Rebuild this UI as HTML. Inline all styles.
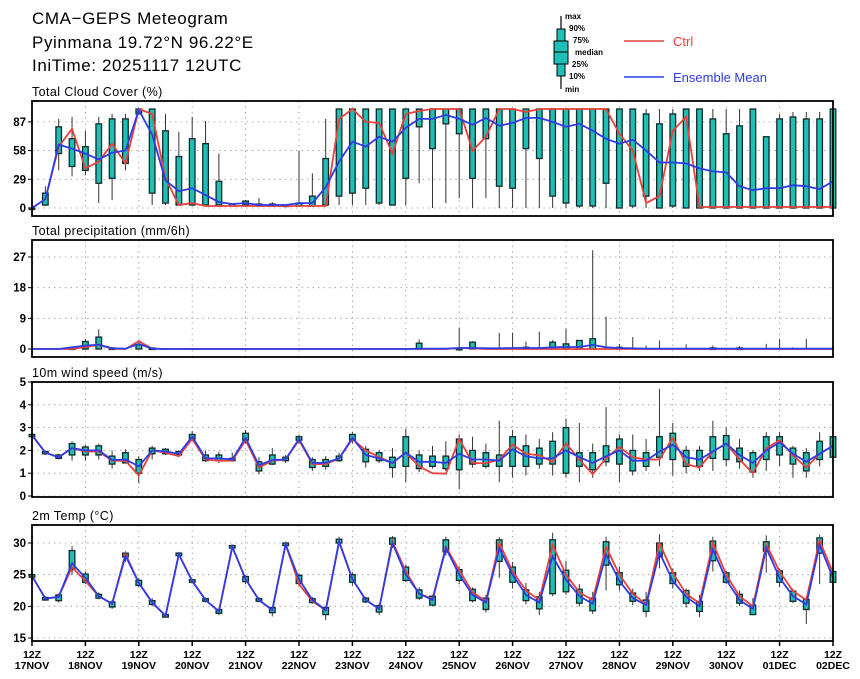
<!DOCTYPE html>
<html><head><meta charset="utf-8">
<style>
html,body{margin:0;padding:0;background:#fff;}
svg{display:block;font-family:"Liberation Sans",sans-serif;}
</style></head>
<body>
<svg id="chart" width="860" height="679" viewBox="0 0 860 679" xmlns="http://www.w3.org/2000/svg">
  <rect x="0" y="0" width="860" height="679" fill="#fff"/>
  <g font-size="17" fill="#000">
    <text x="32" y="24" letter-spacing="0.6">CMA−GEPS Meteogram</text>
    <text x="32" y="48" letter-spacing="0.6">Pyinmana 19.72°N 96.22°E</text>
    <text x="32" y="71" letter-spacing="0.6">IniTime: 20251117 12UTC</text>
  </g>
  <g font-size="8" font-weight="bold">
    <line x1="561" y1="16" x2="561" y2="89" stroke="#000" stroke-width="1.2"/>
    <rect x="557" y="29" width="8" height="47" fill="#1fbfb8" stroke="#000"/>
    <rect x="554" y="41" width="14" height="23" fill="#1fbfb8" stroke="#000"/>
    <line x1="554" y1="52" x2="568" y2="52" stroke="#000"/>
    <text x="565" y="19">max</text><text x="569" y="31">90%</text><text x="573" y="43">75%</text>
    <text x="575" y="55">median</text><text x="572" y="67">25%</text><text x="569" y="79">10%</text><text x="565" y="92">min</text>
  </g>
  <g>
    <line x1="624" y1="41" x2="664" y2="41" stroke="#e8403c" stroke-width="1.5"/>
    <text x="673" y="46" font-size="13" fill="#e8403c">Ctrl</text>
  </g>
  <g>
    <line x1="624" y1="77" x2="664" y2="77" stroke="#2c3ce8" stroke-width="1.5"/>
    <text x="673" y="82" font-size="13" fill="#2c3ce8">Ensemble Mean</text>
  </g>
  <g id="plots"></g>
</svg>
<script>
// ---------- data ----------
const dayLabels = ["17NOV","18NOV","19NOV","20NOV","21NOV","22NOV","23NOV","24NOV","25NOV","26NOV","27NOV","28NOV","29NOV","30NOV","01DEC","02DEC"];

const cMean=[0,9,64,60,55,49,56,58,99,74,28,17,20,13,6,4,5,3,3,3,5,5,21,47,67,62,72,67,81,90,90,94,90,84,91,83,86,91,91,87,82,85,78,70,65,69,58,46,46,45,40,37,36,22,18,20,20,23,22,19,27];
const cCtrl=[0,9,62,80,40,47,65,45,100,95,30,3,5,2,2,2,2,2,2,2,2,2,2,90,100,87,86,55,95,98,100,100,100,58,72,100,100,97,100,100,100,100,100,100,75,58,5,12,78,92,1,1,1,1,1,1,1,1,1,1,1];
const cQ25=[0,3,55,42,38,25,30,45,95,15,5,3,3,3,3,2,3,2,2,2,2,2,3,12,15,20,5,3,30,82,60,85,75,30,70,22,20,60,50,12,5,2,2,25,0,2,12,0,2,0,0,0,0,0,0,0,0,0,0,0,0];
const cQ75=[0,15,82,70,62,85,90,90,100,100,78,52,70,65,27,4,7,4,4,3,5,12,50,100,100,100,100,100,100,100,100,100,100,100,100,100,100,100,100,100,100,100,100,100,100,100,95,85,95,100,100,90,75,83,100,72,90,92,90,90,100];
const cMin=[0,2,38,32,33,5,8,38,95,3,3,3,3,3,3,2,2,2,2,2,2,2,2,3,3,3,3,3,3,25,0,5,10,0,10,0,0,0,0,0,0,0,0,0,0,0,0,0,0,0,0,0,0,0,0,0,0,0,0,0,0];
const cMax=[0,22,90,92,78,92,95,95,100,100,95,77,92,88,55,4,8,10,6,3,58,35,90,100,100,100,100,100,100,100,100,100,100,100,100,100,100,100,100,100,100,100,100,100,100,100,100,100,100,100,100,100,100,100,100,72,95,97,97,97,100];

const pMean=[0,0,0,0.5,1,1.3,0.2,0.1,1.5,0.1,0,0,0,0,0,0,0,0,0,0,0,0,0,0,0,0,0,0,0,0.1,0.1,0.1,0.3,0.3,0.2,0.2,0.3,0.3,0.3,0.5,0.6,0.6,1.2,0.5,0.3,0.2,0.1,0.1,0.1,0.1,0.1,0.1,0.1,0.1,0.1,0.1,0.1,0.1,0.1,0.1,0.1];
const pCtrl=[0,0,0,0,0.6,1.2,0.1,0,2.3,0.1,0,0,0,0,0,0,0,0,0,0,0,0,0,0,0,0,0,0,0,0,0,0,0.3,0.2,0,0,0,0,0,0,0,0,0,0,0,0,0,0,0,0,0,0,0,0,0,0,0,0,0,0,0];
const pQ75=[0,0,0,0.3,2.2,3.5,0.3,0,1.2,0.3,0,0,0,0,0,0,0,0,0,0,0,0,0,0,0,0,0,0,0,1.7,0,0,0.2,2,0,0,0,0.5,0,2,1.5,2.5,3,0,0.5,0,0,0,0,0,0,0.3,0,0.3,0,0,0,0,0,0,0];
const pMax=[0,0,0,0.5,3,5.8,0.5,0.2,2.5,0.5,0,0,0,0,0,0,0,0,0,0,0,0,0,0,0,0,0,0,0,2.8,0,0,6.3,2.3,0.5,4.7,4.8,2.2,5.1,2.6,6,2.5,29,9.5,1.5,3.5,1,2.5,0,1.4,0,1,0,0.8,0,1.5,3,0.5,3,0,0];

const wMean=[2.67,1.9,1.7,2.1,2,2,1.58,1.6,1.3,2,1.95,1.85,2.6,1.65,1.65,1.6,2.55,1.35,1.58,1.6,2.5,1.45,1.45,1.65,2.55,1.8,1.65,1.45,1.9,1.5,1.5,1.45,1.85,1.6,1.6,1.55,2.05,1.74,1.65,1.65,2,1.7,1.45,1.74,2,1.55,1.55,1.95,2.25,1.7,1.6,1.95,2.3,1.8,1.45,2,2.35,1.85,1.5,1.85,2.2];
const wCtrl=[2.67,1.9,1.7,2.1,1.95,1.95,1.55,1.55,0.9,2,1.9,1.75,2.5,1.6,1.55,1.55,2.45,1.25,1.55,1.6,2.45,1.4,1.4,1.65,2.5,2,1.7,1.45,1.9,1.3,1,0.98,2.5,1.45,1.43,1.6,2.25,1.85,1.78,1.5,2.3,1.6,0.95,1.65,2.15,1.7,1.6,1.6,2.55,1.4,1.25,1.95,2.3,1.6,1,2.1,2.45,1.78,1.25,1.85,2.2];
const wQ25=[2.6,1.85,1.65,1.8,1.8,1.8,1.4,1.45,1.0,1.85,1.85,1.8,2.5,1.55,1.55,1.55,2.45,1.1,1.4,1.55,2.45,1.25,1.3,1.55,2.45,1.5,1.55,1.25,1.3,1.2,1.3,1.2,1.15,1.4,1.3,1.3,1.3,1.3,1.4,1.4,1,1.3,1.15,1.5,1.4,1.1,1.3,1.7,1.6,1.3,1.3,1.65,1.6,1.5,1.05,1.6,1.8,1.4,1.1,1.6,1.7];
const wQ75=[2.7,1.95,1.8,2.3,2.15,2.2,1.75,1.9,1.6,2.1,2.05,1.95,2.7,1.8,1.8,1.65,2.75,1.5,1.8,1.7,2.6,1.6,1.6,1.75,2.7,2.05,1.9,1.7,2.6,1.8,1.75,1.75,2.5,2,1.9,1.8,2.6,2.2,2.1,2.4,3,1.9,1.9,2.2,2.5,2.0,1.9,2.6,2.75,2.0,2.0,2.6,2.65,2.1,1.9,2.6,2.6,2.1,1.9,2.4,2.6];
const wMin=[2.55,1.8,1.6,1.55,1.55,1.6,1.2,1.45,0.55,1.6,1.8,1.7,2.4,1.5,1.45,1.5,2.3,0.95,1.35,1.45,2.3,1.1,1.15,1.5,2.3,1.25,1.45,0.8,0.6,1.05,1.2,1.1,0.3,1.25,1.2,0.6,0.8,0.9,1.2,0.9,0.8,0.6,0.8,1.3,0.6,0.9,1.1,1.3,0.9,1,1.1,1.1,1.3,1.2,0.8,1.1,1.3,0.8,0.8,1.3,1.6];
const wMax=[2.75,2.0,1.85,2.4,2.25,2.3,2.0,2.05,1.75,2.2,2.1,2.0,2.85,2.0,1.95,1.9,2.9,1.7,2.1,1.8,2.7,1.7,1.75,1.9,2.8,2.2,2.0,2.1,2.95,2.0,2.2,2.4,2.7,2.6,2.3,3.3,2.9,2.7,2.5,2.8,3.4,3.2,2.3,3.9,2.7,2.7,2.5,4.7,3.2,2.2,2.2,3.3,3.0,2.5,2.0,2.8,2.8,2.2,2.1,2.8,2.7];

const tMean=[24.8,21.2,21.5,26.8,24.5,21.6,20.4,28,23.7,20.6,18.5,28.2,24,21,19.2,29.4,24.3,21,19.4,29.8,24.3,21,19.4,30.2,24.3,21,19.6,30,25,22,21,29.2,25,21.8,20.6,29.2,25,21.8,20.6,27.9,24.2,21.6,20.4,28.2,24,21.3,20.2,28.5,24,21.5,20,29,24.2,21,19.6,29.2,24.5,21.6,20.3,29.7,24.5];
const tCtrl=[24.8,21.2,21.5,26.2,24,21.6,20.4,28.3,23.7,20.6,18.5,28.2,24,21,19.2,29.4,24.3,21,19.4,29.8,23.5,20.8,19.4,30.2,24.3,21,19.6,30.3,25.5,22,21.2,29.4,25.7,22.2,20.8,30,25.5,22.5,21,29.7,25,22.2,21,29.4,25,22,20.3,30,25.3,22,20.5,30,25,21.6,20,29.8,25.5,22.4,21,30.4,25.3];
const tQ25=[24.6,21,20.9,25.8,23.8,21.3,19.9,27.8,23.3,20.3,18.3,28,23.8,20.8,18.9,29.2,23.9,20.8,19,29.6,23.6,20.6,18.7,30,23.8,20.7,19.1,29.8,24.1,21.3,20.2,28.6,24.1,20.9,19.5,27.1,23.8,20.9,19.6,22,22.3,20.5,19.3,26.5,23.4,20.8,19.2,27.8,23.6,20.5,19.2,27.2,23.8,20.5,18.7,28.7,23.8,20.8,19.5,28.4,23.8];
const tQ75=[25,21.4,21.8,28.8,25.1,21.9,20.7,28.4,24.1,20.9,18.7,28.4,24.2,21.2,19.5,29.6,24.7,21.2,19.8,30,24.9,21.2,19.8,30.6,25,21.3,20.1,30.8,26.2,22.6,21.6,30.5,25.8,22.7,21.3,30.5,26.2,22.6,21.5,30.5,25.7,22.7,21.3,30.2,25.3,22.1,21,30,25.3,22.5,20.8,30.3,25.3,21.9,20.2,30.2,25.6,22.4,21.1,30.8,25.5];
const tMin=[24.5,20.9,20.6,25,23.5,21.1,19.6,27,23,20,18.2,27.9,23.6,20.6,18.6,29,23.5,20.6,18.4,29.4,23.2,20.4,17.8,29.8,23.3,20.5,18.6,29.2,23.8,21,20,28,23.5,20.6,19,24.5,22.8,20.3,18.6,21.6,21.8,20,18.8,22.5,22.5,20.2,18.3,26,22.8,19.8,18.3,25.5,23.5,20,18.6,25.3,23,20.5,17.2,23.5,23];
const tMax=[25.2,21.6,22,29.5,25.5,22.2,21,28.7,24.5,21.3,18.8,28.6,24.4,21.4,19.8,29.7,24.9,21.5,20,30.1,25.2,21.5,20,31,25.4,21.5,20.5,31.1,26.6,23,21.8,31,26.3,23,21.8,30.9,27,23.7,22.3,31.6,27.2,23.5,22.3,31,26.3,22.8,22.3,31.4,26,22.8,21.8,31,25.6,22.5,21.3,31.2,26,22.8,21.5,31.3,26];

const cTicks=[0,29,58,87];
const pTicks=[0,9,18,27];
const wTicks=[0,1,2,3,4,5];
const tTicks=[15,20,25,30];

// ---------- drawing ----------
const NS="http://www.w3.org/2000/svg";
const root=document.getElementById('plots');
const X0=32, X1=833, NSTEP=60;
function xAt(i){return X0+(X1-X0)*i/NSTEP;}
function mk(tag,attrs,parent){const e=document.createElementNS(NS,tag);for(const k in attrs)e.setAttribute(k,attrs[k]);(parent||root).appendChild(e);return e;}

function panel(cfg){
  const g=mk('g',{});
  
  
  const yAt=v=>cfg.y0+(v-cfg.v0)*(cfg.y1-cfg.y0)/(cfg.v1-cfg.v0);
  const tt=mk('text',{x:32,y:cfg.top-5,'font-size':12.5,'letter-spacing':'0.4'},g);
  tt.textContent=cfg.title;
  
  
  for(let d=1;d<15;d++){const x=X0+d*(X1-X0)/15;mk('line',{x1:x,y1:cfg.top,x2:x,y2:cfg.bot,stroke:'#999','stroke-width':0.8,'stroke-dasharray':'1.5,4'},g);}
  cfg.ticks.forEach(v=>{
    const y=yAt(v);
    mk('line',{x1:X0,y1:y,x2:X1,y2:y,stroke:'#999','stroke-width':0.8,'stroke-dasharray':'1.5,4'},g);
    mk('line',{x1:X0-4,y1:y,x2:X0,y2:y,stroke:'#000','stroke-width':1},g);
    const t=mk('text',{x:X0-6,y:y+4,'font-size':11.5,'font-weight':'bold','text-anchor':'end'},g);
    t.textContent=v;
    
    
  });
  const bg=mk('g',{},g);
  
  
  for(let i=0;i<=NSTEP;i++){
    const x=xAt(i);
    if(cfg.skipZero && cfg.mx[i]<=0) continue;
    const ymin=yAt(cfg.mn[i]),ymax=yAt(cfg.mx[i]),yq25=yAt(cfg.q25[i]),yq75=yAt(cfg.q75[i]);
    if(Math.abs(ymin-ymax)>0.5) mk('line',{x1:x,y1:ymax,x2:x,y2:ymin,stroke:'#333','stroke-width':1},bg);
    const h=Math.max(Math.abs(yq25-yq75),1.5);
    if(cfg.skipZero && cfg.q75[i]<=0) continue;
    const r=mk('rect',{x:x-2.8,y:Math.min(yq25,yq75),width:5.6,height:h,fill:'#1fbfb8',stroke:'#102a28','stroke-width':1.3},bg);
    
    
  }
  const lp=a=>a.map((v,i)=>xAt(i).toFixed(1)+','+yAt(v).toFixed(1)).join(' ');
  const lc=mk('polyline',{points:lp(cfg.ctrl),fill:'none',stroke:'#e8403c','stroke-width':1.8},g);
  
  
  const lm=mk('polyline',{points:lp(cfg.mean),fill:'none',stroke:'#2c3ce8','stroke-width':1.8},g);
  
  
  mk('rect',{x:X0,y:cfg.top,width:X1-X0,height:cfg.bot-cfg.top,fill:'none',stroke:'#000','stroke-width':1.8},g);
  return g;
}

panel({name:'cloud-cover',title:'Total Cloud Cover (%)',top:101,bot:216,v0:0,v1:100,y0:208,y1:109,ticks:cTicks,mean:cMean,ctrl:cCtrl,q25:cQ25,q75:cQ75,mn:cMin,mx:cMax});
panel({name:'precipitation',title:'Total precipitation (mm/6h)',top:240,bot:357,v0:0,v1:27,y0:349,y1:257,ticks:pTicks,mean:pMean,ctrl:pCtrl,q25:pMean.map(()=>0),q75:pQ75,mn:pMean.map(()=>0),mx:pMax,skipZero:true});
panel({name:'wind-speed',title:'10m wind speed (m/s)',top:382,bot:497,v0:0,v1:5,y0:496,y1:382,ticks:wTicks,mean:wMean,ctrl:wCtrl,q25:wQ25,q75:wQ75,mn:wMin,mx:wMax});
panel({name:'temperature',title:'2m Temp (°C)',top:525,bot:641,v0:15,v1:30,y0:638,y1:543,ticks:tTicks,mean:tMean,ctrl:tCtrl,q25:tQ25,q75:tQ75,mn:tMin,mx:tMax});

const xg=mk('g',{});


dayLabels.forEach((lab,d)=>{
  const x=X0+d*(X1-X0)/15;
  mk('line',{x1:x,y1:641,x2:x,y2:646,stroke:'#000','stroke-width':1.5},xg);
  const t1=mk('text',{x:x,y:658,'font-size':10.5,'font-weight':'bold','text-anchor':'middle'},xg);
  t1.textContent='12Z';
  
  
  const t2=mk('text',{x:x,y:669,'font-size':10.5,'font-weight':'bold','text-anchor':'middle'},xg);
  t2.textContent=lab;
  
  
});
</script>
</body></html>
